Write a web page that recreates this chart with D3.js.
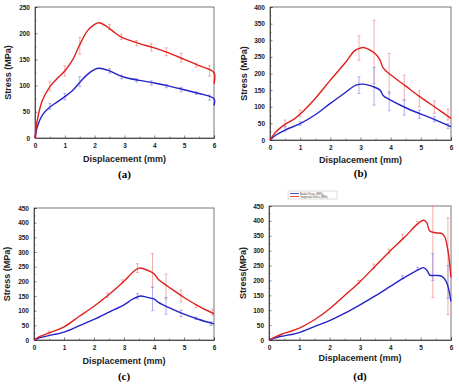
<!DOCTYPE html>
<html lang="en">
<head>
<meta charset="UTF-8">
<title>Stress vs Displacement</title>
<script src="https://d3js.org/d3.v7.min.js"></script>
<style>
  body { margin: 0; background: #fff; }
  svg { display: block; font-family: "Liberation Sans", Arial, sans-serif; }
  .tick text { font-size: 6.5px; font-weight: bold; fill: #222; }
  .axis-title { font-size: 9px; font-weight: bold; fill: #222; }
  .panel-label { font-family: "Liberation Serif", "Times New Roman", serif; font-size: 11px; font-weight: bold; }
</style>
</head>
<body>
<svg id="chart" width="459" height="389"></svg>
<script>
// ---- data ----
const xTicks = [0, 1, 2, 3, 4, 5, 6];

// (a)
const aRed = [[0,0],[0.08,35],[0.25,72],[0.5,98],[0.75,114],[1,128],[1.25,148],[1.5,178],[1.75,204],[2,217],[2.15,220],[2.4,213],[2.65,202],[2.85,194],[3,190],[3.5,180],[4,172],[4.5,162],[5,150],[5.5,138],[6,125],[6,104]];
const aBlue = [[0,0],[0.08,22],[0.25,44],[0.5,59],[0.75,69],[1,79],[1.25,90],[1.5,106],[1.75,121],[2,131],[2.15,133],[2.5,128],[2.8,120],[3,116],[3.5,110],[4,105],[4.5,99],[5,92],[5.5,85],[6,75],[6,62]];
const aRedErr = [[0.05,0,24],[0.5,90,107],[1,118,138],[1.5,160,192],[2.5,207,217],[2.9,188,198],[3.4,176,186],[3.9,166,180],[4.4,157,172],[4.9,145,162],[5.4,135,143],[5.85,118,138]];
const aBlueErr = [[0.5,55,66],[1,73,85],[1.5,98,117],[2.5,124,132],[2.9,113,120],[3.4,107,113],[3.9,101,109],[4.4,96,102],[4.9,88,97],[5.4,83,88],[5.85,72,82]];

// (b)
const bRed = [[0,0],[0.2,25],[0.5,47],[0.8,63],[1,78],[1.5,125],[2,180],[2.5,233],[2.8,268],[2.95,275],[3.1,278],[3.3,271],[3.5,259],[3.65,240],[3.75,217],[4,196],[4.5,162],[5,128],[5.5,97],[6,65]];
const bBlue = [[0,0],[0.2,15],[0.5,30],[1,49],[1.5,76],[2,110],[2.5,143],[2.85,165],[3.1,168],[3.4,161],[3.65,150],[3.75,134],[4,120],[4.5,97],[5,78],[5.5,60],[6,40]];
const bRedErr = [[0.5,40,60],[1,70,90],[2.95,240,313],[3.45,170,360],[3.95,140,260],[4.45,120,195],[4.95,100,148],[5.45,80,118],[5.9,60,93]];
const bBlueErr = [[0.5,27,40],[1,44,55],[2.95,140,190],[3.45,105,218],[3.95,88,145],[4.45,75,120],[4.95,65,90],[5.45,55,70],[5.9,35,50]];

// (c)
const cRed = [[0,0],[0.2,12],[0.5,24],[1,45],[1.5,80],[2,115],[2.5,155],[3,200],[3.3,232],[3.5,245],[3.65,243],[3.85,235],[4,226],[4.15,206],[4.5,180],[5,145],[5.5,115],[6,90]];
const cBlue = [[0,0],[0.2,8],[0.5,15],[1,27],[1.5,48],[2,70],[2.5,95],[3,120],[3.3,140],[3.55,150],[3.75,146],[4,140],[4.15,128],[4.5,110],[5,88],[5.5,70],[6,55]];
const cRedErr = [[0.5,20,30],[2.45,145,160],[2.95,195,205],[3.45,230,260],[3.95,180,295],[4.4,140,225],[4.9,130,170],[5.4,110,120],[5.95,85,105]];
const cBlueErr = [[3.45,140,158],[3.95,100,180],[4.4,88,145],[4.9,80,102],[5.4,70,78],[5.9,50,62]];

// (d)
const dRed = [[0,0],[0.3,15],[0.5,22],[1,40],[1.5,68],[2,105],[2.5,150],[3,196],[3.5,248],[4,300],[4.5,348],[4.9,390],[5.1,402],[5.2,394],[5.3,366],[5.5,360],[5.7,357],[5.8,345],[5.9,300],[6,210]];
const dBlue = [[0,0],[0.3,10],[0.5,14],[1,25],[1.5,45],[2,65],[2.5,90],[3,118],[3.5,148],[4,180],[4.5,212],[5,240],[5.1,243],[5.22,232],[5.3,218],[5.5,217],[5.7,214],[5.85,195],[6,130]];
const dRedErr = [[2.95,190,200],[3.45,240,255],[3.95,290,305],[4.4,340,355],[4.9,390,398],[5.4,143,450],[5.9,85,410]];
const dBlueErr = [[4.4,208,216],[4.9,236,244],[5.4,200,290],[5.9,140,250]];

const legendNames = ["Radial Stress (MPa)", "Tangential Stress (MPa)"];

const panels = [
  { label: "(a)", yMax: 250, yStep: 50, yTitle: "Stress (MPa)", x0: 35, x1: 214, y0: 138, y1: 7,
    red: aRed, blue: aBlue, redErr: aRedErr, blueErr: aBlueErr, titleY: 162, labelY: 178, yTitleX: 8 },
  { label: "(b)", yMax: 400, yStep: 50, yTitle: "Stress (MPa)", x0: 270, x1: 451, y0: 140, y1: 7,
    red: bRed, blue: bBlue, redErr: bRedErr, blueErr: bBlueErr, titleY: 163, labelY: 177, yTitleX: 244 },
  { label: "(c)", yMax: 450, yStep: 50, yTitle: "Stress (MPa)", x0: 34, x1: 214, y0: 340, y1: 208,
    red: cRed, blue: cBlue, redErr: cRedErr, blueErr: cBlueErr, titleY: 364, labelY: 380, yTitleX: 7 },
  { label: "(d)", yMax: 450, yStep: 50, yTitle: "Stress(MPa)", x0: 269, x1: 451, y0: 340, y1: 206,
    red: dRed, blue: dBlue, redErr: dRedErr, blueErr: dBlueErr, titleY: 361, labelY: 380, yTitleX: 243 }
];

const RED = "#e0201c", BLUE = "#2323c8";
const RED_ERR = "#f08a8a", BLUE_ERR = "#8c8ce8";

const svg = d3.select("#chart");

panels.forEach(p => {
  const x = d3.scaleLinear().domain([0, 6]).range([p.x0, p.x1]);
  const y = d3.scaleLinear().domain([0, p.yMax]).range([p.y0, p.y1]);
  const g = svg.append("g");
  const yTicks = d3.range(0, p.yMax + 1, p.yStep);

  // frame
  g.append("rect").attr("x", p.x0).attr("y", p.y1)
    .attr("width", p.x1 - p.x0).attr("height", p.y0 - p.y1)
    .attr("fill", "none").attr("stroke", "#555").attr("stroke-width", 0.8);

  // axes
  const xa = g.append("g").attr("transform", `translate(0,${p.y0})`)
    .call(d3.axisBottom(x).tickValues(xTicks).tickSize(-2.5).tickPadding(5).tickFormat(d3.format("d")));
  const ya = g.append("g").attr("transform", `translate(${p.x0},0)`)
    .call(d3.axisLeft(y).tickValues(yTicks).tickSize(-2.5).tickPadding(5).tickFormat(d3.format("d")));
  [xa, ya].forEach(a => {
    a.select(".domain").attr("stroke", "#333").attr("stroke-width", 0.8);
    a.selectAll(".tick line").attr("stroke", "#333").attr("stroke-width", 0.6);
  });
  // minor ticks
  g.append("g").attr("transform", `translate(${p.x0},0)`)
    .call(d3.axisLeft(y).tickValues(yTicks.slice(0, -1).map(v => v + p.yStep / 2)).tickSize(-1.5).tickFormat(""))
    .call(a => { a.select(".domain").remove(); a.selectAll("line").attr("stroke", "#333").attr("stroke-width", 0.5); });
  g.append("g").attr("transform", `translate(0,${p.y0})`)
    .call(d3.axisBottom(x).tickValues(xTicks.slice(0, -1).map(v => v + 0.5)).tickSize(-1.5).tickFormat(""))
    .call(a => { a.select(".domain").remove(); a.selectAll("line").attr("stroke", "#333").attr("stroke-width", 0.5); });

  // error bars
  const drawErr = (data, color) => {
    const eg = g.append("g").attr("stroke", color).attr("stroke-width", 0.7).attr("fill", "none");
    data.forEach(([xv, lo, hi]) => {
      const cx = x(xv);
      eg.append("line").attr("x1", cx).attr("x2", cx).attr("y1", y(lo)).attr("y2", y(hi));
      eg.append("line").attr("x1", cx - 1.5).attr("x2", cx + 1.5).attr("y1", y(lo)).attr("y2", y(lo));
      eg.append("line").attr("x1", cx - 1.5).attr("x2", cx + 1.5).attr("y1", y(hi)).attr("y2", y(hi));
    });
  };
  drawErr(p.redErr, RED_ERR);
  drawErr(p.blueErr, BLUE_ERR);

  // curves
  const line = d3.line().x(d => x(d[0])).y(d => y(d[1])).curve(d3.curveCatmullRom.alpha(0.5));
  g.append("path").datum(p.blue).attr("d", line).attr("fill", "none").attr("stroke", BLUE).attr("stroke-width", 1.4);
  g.append("path").datum(p.red).attr("d", line).attr("fill", "none").attr("stroke", RED).attr("stroke-width", 1.4);

  // titles
  g.append("text").attr("class", "axis-title").attr("text-anchor", "middle")
    .attr("x", (p.x0 + p.x1) / 2).attr("y", p.titleY).text("Displacement (mm)");
  g.append("text").attr("class", "axis-title").attr("text-anchor", "middle")
    .attr("transform", `translate(${p.yTitleX + 3},${(p.y0 + p.y1) / 2}) rotate(-90)`).text(p.yTitle);
  g.append("text").attr("class", "panel-label").attr("text-anchor", "middle")
    .attr("x", (p.x0 + p.x1) / 2).attr("y", p.labelY).text(p.label);
});

// tiny legend above panel (d)
const lg = svg.append("g").attr("transform", "translate(288,191)");
lg.append("rect").attr("width", 49).attr("height", 8).attr("fill", "#fff").attr("stroke", "#bbb").attr("stroke-width", 0.5);
[BLUE, RED].forEach((c, i) => {
  lg.append("line").attr("x1", 2).attr("x2", 11).attr("y1", 2.5 + i * 3).attr("y2", 2.5 + i * 3)
    .attr("stroke", c).attr("stroke-width", 0.8);
  lg.append("text").attr("x", 12).attr("y", 3.6 + i * 3).attr("font-size", 2.6).attr("fill", "#444")
    .text(legendNames[i]);
});
</script>
</body>
</html>
